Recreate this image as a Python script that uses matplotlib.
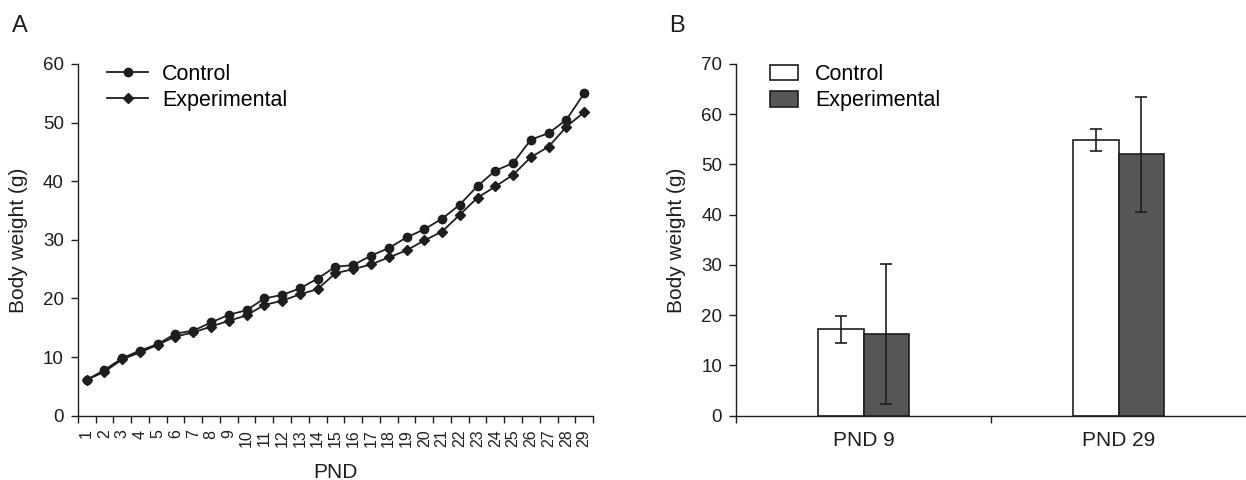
import numpy as np
import matplotlib
matplotlib.use("Agg")
import matplotlib.pyplot as plt
from matplotlib.ticker import FixedLocator, NullFormatter

plt.rcParams["font.family"] = ["Liberation Sans", "DejaVu Sans"]

# Daily body weight (g), postnatal days 1-29
pnd = list(range(1, 30))
control_daily = [6.1, 7.8, 9.8, 11.1, 12.2, 14.0, 14.5, 15.9, 17.2, 18.0,
                 20.0, 20.6, 21.7, 23.4, 25.4, 25.7, 27.3, 28.6, 30.4, 31.8,
                 33.6, 36.0, 39.2, 41.8, 43.1, 47.1, 48.2, 50.5, 55.0]
exp_daily = [6.1, 7.5, 9.6, 10.8, 12.1, 13.5, 14.2, 15.2, 16.2, 17.1,
             18.9, 19.6, 20.7, 21.6, 24.3, 25.0, 25.8, 27.0, 28.2, 29.9,
             31.4, 34.3, 37.2, 39.1, 41.1, 44.1, 45.9, 49.3, 51.8]

# Mean +/- SD at PND 9 and PND 29
groups = ["PND 9", "PND 29"]
control_mean = [17.2, 54.9]
control_sd = [2.7, 2.2]
exp_mean = [16.3, 52.0]
exp_sd = [13.9, 11.4]

fig = plt.figure(figsize=(12.46, 4.8), dpi=100)
ax_a = fig.add_axes([0.0624, 0.134, 0.4136, 0.7327])
ax_b = fig.add_axes([0.5907, 0.134, 0.4093, 0.7327])

ink = "#1e1e1e"
for ax in (ax_a, ax_b):
    for side in ("top", "right"):
        ax.spines[side].set_visible(False)
    for side in ("left", "bottom"):
        ax.spines[side].set_linewidth(1.0)
        ax.spines[side].set_color(ink)
    ax.tick_params(axis="y", which="major", length=5, width=1.0, pad=5,
                   labelsize=13.5, color=ink, labelcolor=ink)

# --- A: daily growth curves
ax_a.plot(pnd, control_daily, color=ink, lw=1.3, marker="o", ms=6,
          label="Control")
ax_a.plot(pnd, exp_daily, color=ink, lw=1.3, marker="D", ms=5,
          label="Experimental")
ax_a.set_xlim(0.5, 29.5)
ax_a.set_ylim(0, 60)
ax_a.set_yticks(range(0, 61, 10))
ax_a.set_xticks(pnd)
ax_a.set_xticklabels([str(d) for d in pnd], rotation=90)
ax_a.xaxis.set_minor_locator(FixedLocator(np.arange(0.5, 30, 1.0)))
ax_a.xaxis.set_minor_formatter(NullFormatter())
ax_a.tick_params(axis="x", which="major", length=0, pad=10, labelsize=11.5,
                 labelcolor=ink)
ax_a.tick_params(axis="x", which="minor", length=5, width=1.0, color=ink)
ax_a.set_xlabel("PND", fontsize=15, color=ink)
ax_a.xaxis.set_label_coords(0.5, -0.135)
ax_a.xaxis.label.set_va("top")
ax_a.set_ylabel("Body weight (g)", fontsize=15, color=ink)
ax_a.yaxis.set_label_coords(-0.097, 0.5)
ax_a.legend(loc="upper left", bbox_to_anchor=(0.057, 1.0), frameon=False,
            fontsize=15.5, handlelength=1.9, handletextpad=0.65,
            labelspacing=0.22, borderpad=0, borderaxespad=0)

# --- B: group means with SD
x = np.arange(len(groups)) + 0.5
w = 0.178
err_kw = dict(ecolor=ink, elinewidth=1.2, capsize=4.5, capthick=1.2)
ax_b.bar(x - w / 2, control_mean, w, yerr=control_sd, color="white",
         edgecolor=ink, linewidth=1.2, error_kw=err_kw, label="Control")
ax_b.bar(x + w / 2, exp_mean, w, yerr=exp_sd, color="#555657",
         edgecolor=ink, linewidth=1.2, error_kw=err_kw, label="Experimental")
ax_b.set_xlim(0, 2)
ax_b.set_ylim(0, 70)
ax_b.set_yticks(range(0, 71, 10))
ax_b.set_xticks(x)
ax_b.set_xticklabels(groups)
ax_b.xaxis.set_minor_locator(FixedLocator([0, 1]))
ax_b.xaxis.set_minor_formatter(NullFormatter())
ax_b.tick_params(axis="x", which="major", length=0, pad=11, labelsize=15,
                 labelcolor=ink)
ax_b.tick_params(axis="x", which="minor", length=5, width=1.0, color=ink)
ax_b.set_ylabel("Body weight (g)", fontsize=15, color=ink)
ax_b.yaxis.set_label_coords(-0.098, 0.5)
ax_b.legend(loc="upper left", bbox_to_anchor=(0.066, 1.0), frameon=False,
            fontsize=15.5, handlelength=1.3, handleheight=0.75,
            handletextpad=0.8, labelspacing=0.25, borderpad=0,
            borderaxespad=0)

fig.text(0.0096, 0.969, "A", fontsize=17, color=ink, va="top", ha="left")
fig.text(0.537, 0.969, "B", fontsize=17, color=ink, va="top", ha="left")

fig.savefig("out.png", dpi=100)
